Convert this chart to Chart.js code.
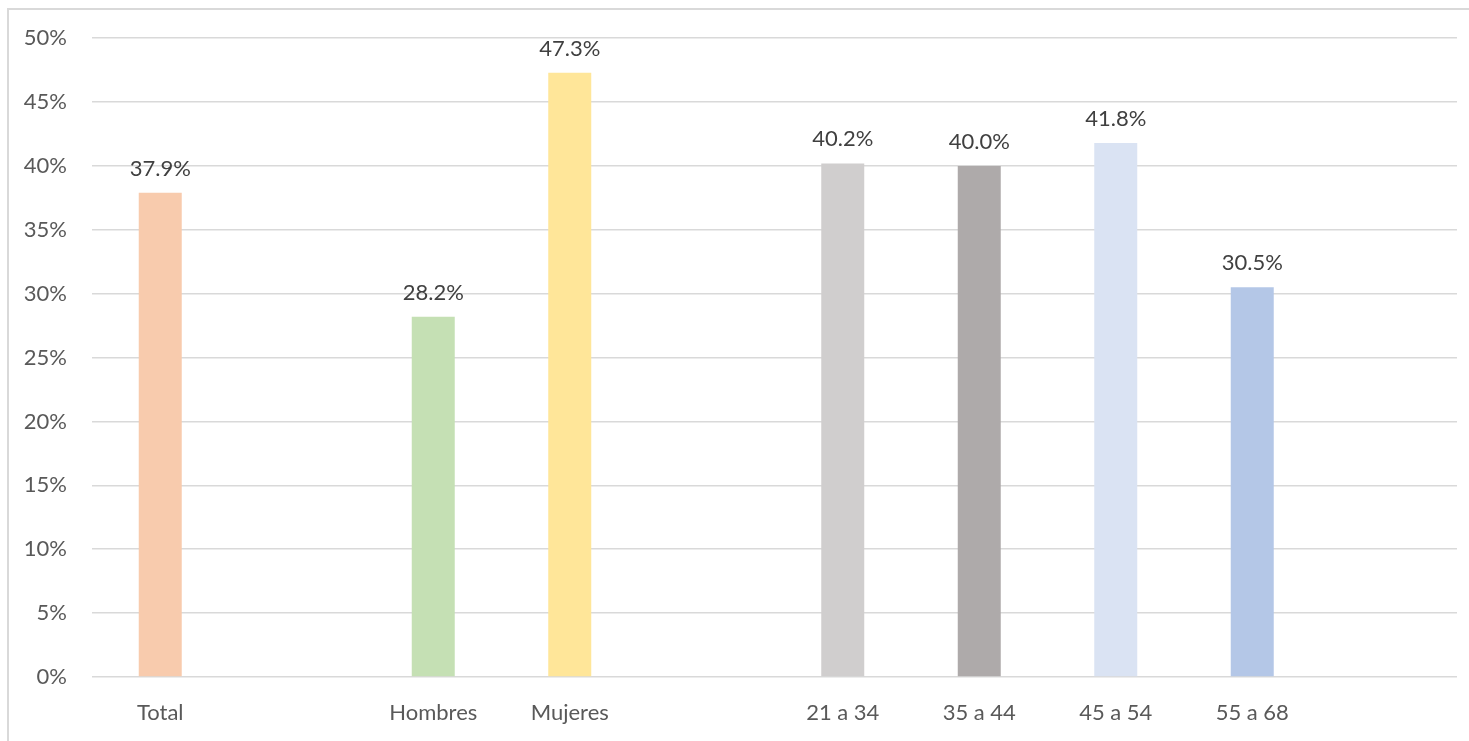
<!DOCTYPE html>
<html>
<head>
<meta charset="utf-8">
<script src="https://cdn.jsdelivr.net/npm/chart.js@4"></script>
<style>
  html, body { margin: 0; padding: 0; background: #fff; overflow: hidden; }
  #frame {
    position: absolute; left: 7px; top: 8px; width: 1500px; height: 800px;
    border-left: 2px solid #d9d9d9; border-top: 2px solid #d9d9d9;
  }
  #wrap { position: absolute; left: 0; top: 0; width: 1469px; height: 741px; }
</style>
</head>
<body>
<div id="frame"></div>
<div id="wrap"><canvas id="myChart"></canvas></div>
<script>
// categories (empty slots are the gaps between groups)
const categories = ['Total', '', 'Hombres', 'Mujeres', '', '21 a 34', '35 a 44', '45 a 54', '55 a 68', ''];
const values = [37.9, null, 28.2, 47.3, null, 40.2, 40.0, 41.8, 30.5, null];
const barColors = ['#f8cbad', null, '#c5e0b4', '#ffe699', null, '#d0cece', '#aeaaaa', '#dae3f3', '#b4c7e7', null];
const yTicks = [0, 5, 10, 15, 20, 25, 30, 35, 40, 45, 50];

const fontFamily = 'Lato, "Open Sans", sans-serif';

// draws the value above each bar
const valueLabels = {
  id: 'valueLabels',
  afterDatasetsDraw(chart) {
    const ctx = chart.ctx;
    const meta = chart.getDatasetMeta(0);
    ctx.save();
    ctx.font = '22px ' + fontFamily;
    ctx.fillStyle = '#404040';
    ctx.textAlign = 'center';
    ctx.textBaseline = 'alphabetic';
    meta.data.forEach((bar, i) => {
      if (values[i] == null) return;
      ctx.fillText(values[i].toFixed(1) + '%', bar.x, bar.y - 17);
    });
    ctx.restore();
  }
};

function initChart() {
  const canvas = document.getElementById('myChart');
  const ctx = canvas.getContext('2d');

  new Chart(ctx, {
    type: 'bar',
    data: {
      labels: categories,
      datasets: [{
        data: values,
        backgroundColor: barColors,
        borderWidth: 0,
        categoryPercentage: 1,
        barPercentage: 0.315
      }]
    },
    options: {
      responsive: true,
      maintainAspectRatio: false,
      animation: false,
      layout: { padding: { top: 37, right: 12, left: 0, bottom: 0 } },
      plugins: {
        legend: { display: false },
        tooltip: { enabled: false }
      },
      scales: {
        x: {
          grid: { display: false, drawTicks: false },
          border: { display: false },
          ticks: {
            color: '#595959',
            font: { family: fontFamily, size: 22 },
            padding: 23,
            maxRotation: 0,
            autoSkip: false
          },
          afterFit(scale) { scale.height = 64; }
        },
        y: {
          min: 0,
          max: 50,
          afterBuildTicks(scale) { scale.ticks = yTicks.map(v => ({ value: v })); },
          grid: { color: '#d9d9d9', lineWidth: 1.5, drawTicks: false },
          border: { display: false },
          ticks: {
            color: '#595959',
            font: { family: fontFamily, size: 22 },
            padding: 25,
            callback: v => v + '%'
          },
          afterFit(scale) { scale.width = 92; }
        }
      }
    },
    plugins: [valueLabels]
  });
}

window.addEventListener('load', initChart);
</script>
</body>
</html>
